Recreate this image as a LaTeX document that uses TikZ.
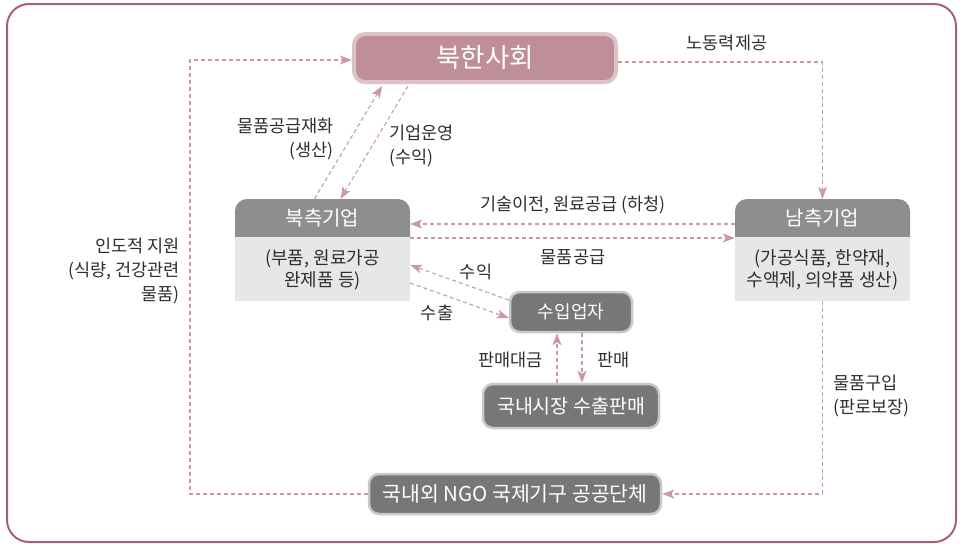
\documentclass[tikz,border=0pt]{standalone}
\usepackage{fontspec}
\setmainfont{Noto Sans CJK KR}
\usetikzlibrary{arrows.meta,positioning}
\definecolor{framec}{HTML}{A3627C}
\definecolor{topfill}{HTML}{BE8F98}
\definecolor{topborder}{HTML}{DDC2C7}
\definecolor{arrc}{HTML}{C99AA6}
\definecolor{hdrgray}{HTML}{8E8E90}
\definecolor{bodygray}{HTML}{E6E7E8}
\definecolor{darknode}{HTML}{77777A}
\definecolor{darkborder}{HTML}{C9C9CB}
\definecolor{txt}{HTML}{2E2E2E}
\tikzset{
  arr/.style={draw=arrc, line width=1.1pt, dash pattern=on 4pt off 3pt,
    -{Stealth[length=12pt,width=9pt,inset=3pt]}},
  lbl/.style={text=txt, font=\fontsize{17.5}{24}\selectfont, inner sep=0pt, align=center},
  darkbox/.style={rectangle, rounded corners=10pt, fill=darknode, draw=darkborder,
    line width=2.5pt, text=white, inner sep=0pt},
  hdrtext/.style={text=white, font=\fontsize{20}{22}\selectfont, inner sep=0pt},
  bodytext/.style={text=txt, font=\fontsize{18}{22}\selectfont, inner sep=0pt, align=center},
  frame/.style={draw=framec, line width=2pt, rounded corners=22pt}
}
\begin{document}
\begin{tikzpicture}[x=1pt,y=-1pt]
\useasboundingbox (0,0) rectangle (963,546);
\draw[frame] (7,4) rectangle (956,542);

% top node
\node[rectangle, rounded corners=11pt, fill=topfill, draw=topborder, line width=4pt,
  minimum width=262pt, minimum height=48pt, text=white,
  font=\fontsize{26.5}{28}\selectfont, inner sep=0pt] (top) at (485,58) {북한사회};

% north enterprise
\fill[hdrgray, rounded corners=12pt] (235,250) rectangle (410,199);
\fill[bodygray] (235,237) rectangle (410,301);
\node[minimum width=175pt, minimum height=102pt, inner sep=0pt] (nk) at (322.5,250) {};
\node[hdrtext] (nkh) at (322.5,218) {북측기업};
\node[bodytext] (nkb) at (322.5,270) {(부품, 원료가공\\완제품 등)};

% south enterprise
\fill[hdrgray, rounded corners=12pt] (735,250) rectangle (910,199);
\fill[bodygray] (735,237) rectangle (910,301);
\node[minimum width=175pt, minimum height=102pt, inner sep=0pt] (sk) at (822.5,250) {};
\node[hdrtext] (skh) at (822.5,218) {남측기업};
\node[bodytext] (skb) at (822.5,270) {(가공식품, 한약재,\\수액제, 의약품 생산)};

% dark nodes
\node[darkbox, minimum width=122pt, minimum height=40pt,
  font=\fontsize{18}{20}\selectfont] (suip) at (571,312) {수입업자};
\node[darkbox, minimum width=176pt, minimum height=44pt,
  font=\fontsize{19.5}{20}\selectfont] (dm) at (571,406) {국내시장 수출판매};
\node[darkbox, minimum width=292pt, minimum height=40pt,
  font=\fontsize{20.5}{22}\selectfont] (ngo) at (515,494) {국내외 NGO 국제기구 공공단체};

% connectors
\coordinate (lc) at (190,60);
\draw[arr] (ngo.west) -| (lc) -- (lc -| top.west);
\draw[arr] ([yshift=-4pt]top.east) -| (sk.north);
\draw[arr] ([xshift=-8pt]nk.north) -- ([xshift=-103pt,yshift=-2pt]top.south);
\draw[arr] ([xshift=-77pt,yshift=-2pt]top.south) -- ([xshift=18pt]nk.north);
\draw[arr] ([yshift=26pt]sk.west) -- ([yshift=26pt]nk.east);
\draw[arr] ([yshift=12pt]nk.east) -- ([yshift=12pt]sk.west);
\draw[arr] ([yshift=12pt]suip.west) -- ([yshift=-15pt]nk.east);
\draw[arr] ([yshift=-33pt]nk.east) -- ([yshift=-6pt]suip.west);
\draw[arr] ([xshift=-14pt]dm.north) -- ([xshift=-14pt]suip.south);
\draw[arr] ([xshift=11pt]suip.south) -- ([xshift=11pt]dm.north);
\draw[arr] (sk.south) |- (ngo.east);

% labels
\node[lbl] (l1) at (727,43) {노동력제공};
\node[lbl, anchor=east, align=right] (l2) at (334,139) {물품공급재화\\(생산)};
\node[lbl, anchor=west, align=left] (l3) at (389,146) {기업운영\\(수익)};
\node[lbl] (l4) at (573,205) {기술이전, 원료공급 (하청)};
\node[lbl] (l5) at (573,257) {물품공급};
\node[lbl] (l6) at (476,272) {수익};
\node[lbl] (l7) at (437,313) {수출};
\node[lbl, anchor=east] (l8) at (543,360) {판매대금};
\node[lbl, anchor=west] (l9) at (597,360) {판매};
\node[lbl, anchor=east, align=right] (l10) at (180,271) {인도적 지원\\(식량, 건강관련\\물품)};
\node[lbl, anchor=west, align=left] (l11) at (833,396) {물품구입\\(판로보장)};
\end{tikzpicture}
\end{document}
